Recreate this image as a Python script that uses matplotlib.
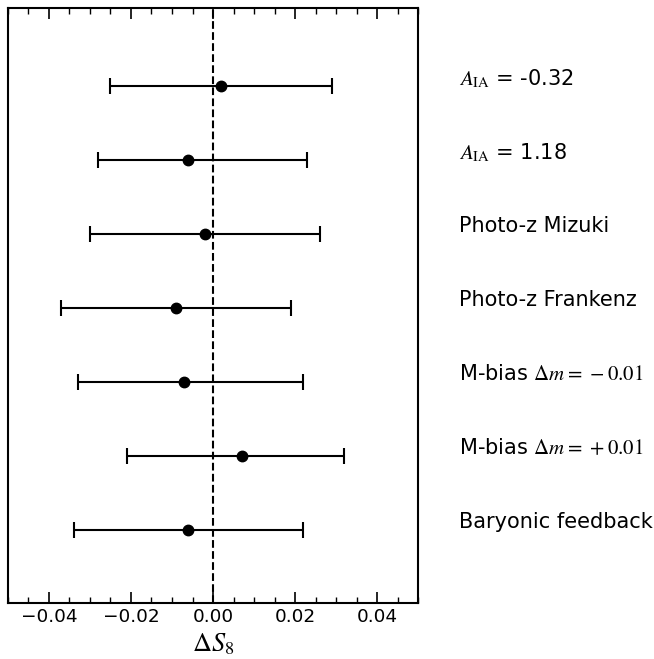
import matplotlib
matplotlib.use('Agg')
import matplotlib.pyplot as plt
from matplotlib.ticker import MultipleLocator

plt.rcParams['mathtext.fontset'] = 'stix'

# shift in S8 for each systematic test, with 1-sigma bounds
labels = [r'$A_{\rm IA}$ = -0.32',
          r'$A_{\rm IA}$ = 1.18',
          'Photo-z Mizuki',
          'Photo-z Frankenz',
          r'M-bias $\Delta m = \,-0.01$',
          r'M-bias $\Delta m = \,+0.01$',
          'Baryonic feedback']
delta_s8 = [0.002, -0.006, -0.002, -0.009, -0.007, 0.007, -0.006]
lower = [-0.025, -0.028, -0.030, -0.037, -0.033, -0.021, -0.034]
upper = [0.029, 0.023, 0.026, 0.019, 0.022, 0.032, 0.022]

ypos = list(range(len(labels)))
xerr = [[d - lo for d, lo in zip(delta_s8, lower)],
        [hi - d for d, hi in zip(delta_s8, upper)]]

fig = plt.figure(figsize=(6.54, 6.59), dpi=100)
ax = fig.add_axes([0.0122, 0.085, 0.627, 0.903])

ax.axvline(0.0, color='k', ls='--', lw=1.5, zorder=1)
ax.errorbar(delta_s8, ypos, xerr=xerr, fmt='o', color='k', ms=7.5,
            elinewidth=1.5, capsize=5.5, capthick=1.5, zorder=3)

ax.set_xlim(-0.05, 0.05)
ax.set_ylim(6.99, -1.05)
ax.set_yticks([])
ax.xaxis.set_major_locator(MultipleLocator(0.02))
ax.xaxis.set_minor_locator(MultipleLocator(0.005))
ax.tick_params(axis='x', which='both', direction='in', top=True, bottom=True,
               labelsize=13.3)
ax.tick_params(axis='x', which='major', length=8, width=1.2)
ax.tick_params(axis='x', which='minor', length=4, width=1.0)
for sp in ax.spines.values():
    sp.set_linewidth(1.5)

ax.set_xlabel(r'$\Delta S_8$', fontsize=19, labelpad=4)

# row labels outside the axes on the right, sitting a little above each row
for y, lab in zip(ypos, labels):
    ax.text(1.1, y - 0.1, lab, transform=ax.get_yaxis_transform(),
            fontsize=15, va='center', ha='left')

fig.savefig('out.png', dpi=100)
